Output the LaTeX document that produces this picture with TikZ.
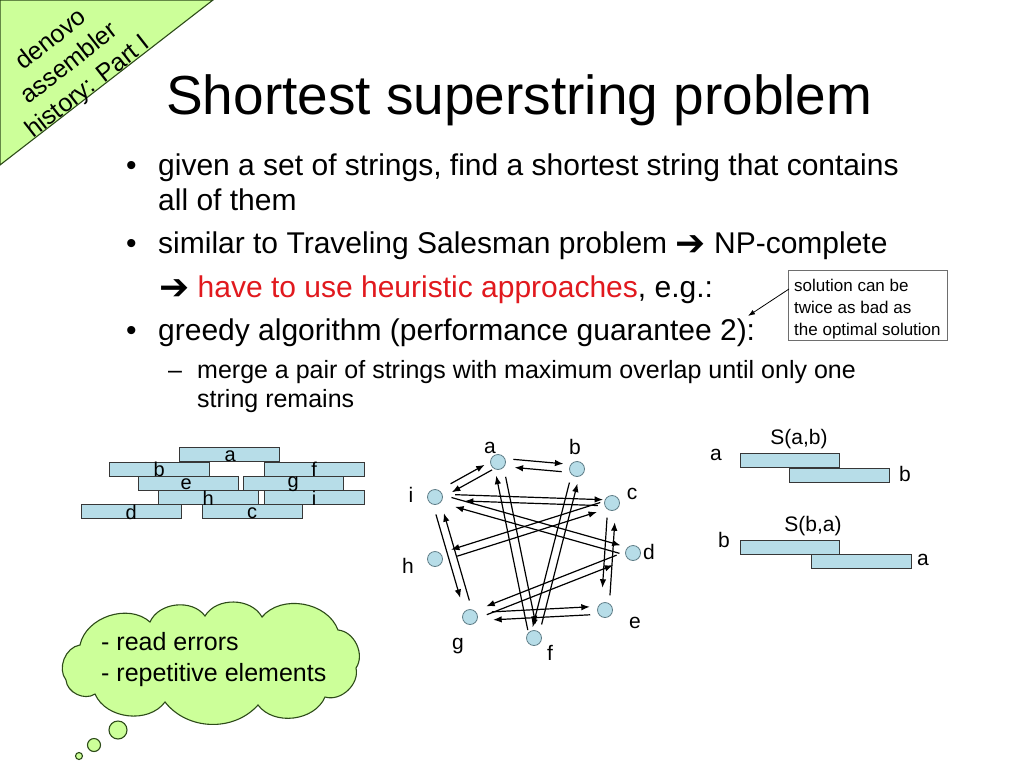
\documentclass[tikz,border=0pt]{standalone}
\usepackage{fontspec}
\setmainfont{Liberation Sans}
\newfontfamily\symfont{DejaVu Sans}
\usetikzlibrary{calc,arrows.meta}
\definecolor{barblue}{RGB}{183,221,232}
\definecolor{lgreen}{RGB}{204,255,153}
\definecolor{dgreen}{RGB}{45,75,25}
\definecolor{hred}{RGB}{225,25,30}
\definecolor{barline}{RGB}{55,55,55}
\definecolor{nodeline}{RGB}{95,125,135}
\newcommand{\garr}[5]{\draw[garrow, shorten <=#4pt, shorten >=#5pt] ($(#1)!#3pt!90:(#2)$) -- ($(#2)!#3pt!-90:(#1)$);}
\newcommand{\bigarr}{{\symfont\fontsize{36}{36}\selectfont\raisebox{-2pt}{➔}}}
\begin{document}
\begin{tikzpicture}[x=1pt,y=-1pt,
  body/.style={inner sep=0, anchor=base west, font=\fontsize{30}{35}\selectfont},
  sub/.style={inner sep=0, anchor=base west, font=\fontsize{25}{30}\selectfont},
  bar/.style={draw=barline, fill=barblue, line width=0.9, minimum width=99.5, minimum height=14.3, inner sep=0, anchor=north west},
  barlab/.style={inner sep=0, font=\fontsize{20}{24}\selectfont},
  slab/.style={inner sep=0, font=\fontsize{21}{25}\selectfont},
  gnode/.style={circle, minimum size=15, inner sep=0, fill=barblue, draw=nodeline, line width=0.8},
  glab/.style={inner sep=0, font=\fontsize{21}{24}\selectfont},
  garrow/.style={line width=1.2, -{Latex[length=8.5pt,width=6.5pt]}},
  ctext/.style={inner sep=0, anchor=base west, font=\fontsize{17}{21}\selectfont},
  cltext/.style={inner sep=0, anchor=base west, font=\fontsize{25}{31}\selectfont},
  green/.style={fill=lgreen, draw=dgreen, line width=1.1}
]
\useasboundingbox (0,0) rectangle (1024,768);
\fill[white] (0,0) rectangle (1024,768);

% corner triangle
\draw[green] (0,0) -- (213,0) -- (0,165) -- cycle;
\node[rotate=38, align=center, inner sep=0, font=\fontsize{25}{30}\selectfont] (tri) at (70,64) {denovo\\assembler\\history: Part I};

% title
\node[inner sep=0, anchor=base west, font=\fontsize{55}{66}\selectfont] (title) at (166,114) {Shortest superstring problem};

% bullets
\node[body] (b1) at (126,175) {•};
\node[body] (l1) at (158,175) {given a set of strings, find a shortest string that contains};
\node[body] (l2) at (158,210) {all of them};
\node[body] (b2) at (126,253) {•};
\node[body] (l3) at (158,253) {similar to Traveling Salesman problem \bigarr{} NP-complete};
\node[body] (l4) at (159,297) {\bigarr{} {\color{hred}have to use heuristic approaches}, e.g.:};
\node[body] (b3) at (126,340) {•};
\node[body] (l5) at (158,340) {greedy algorithm (performance guarantee 2):};
\node[sub] (d1) at (168,378) {–};
\node[sub] (l6) at (197,378) {merge a pair of strings with maximum overlap until only one};
\node[sub] (l7) at (197,407) {string remains};

% callout
\node[draw={rgb,255:red,110;green,110;blue,110}, line width=0.9, minimum width=159, minimum height=70, inner sep=0, anchor=north west] (cb) at (788,270) {};
\node[ctext] (c1) at (794,291) {solution can be};
\node[ctext] (c2) at (794,313) {twice as bad as};
\node[ctext] (c3) at (794,335) {the optimal solution};
\coordinate (cs) at ($(cb.north west)+(1,19)$);
\coordinate (ctip) at (748,316);
\draw[line width=0.8, -{Latex[length=7pt,width=5pt]}] (cs) -- (ctip);

% bars (left)
\node[bar] (ra) at (179,447) {};
\node[bar] (rb) at (109,461.5) {};
\node[bar] (rf) at (264,461.5) {};
\node[bar] (re) at (138,476) {};
\node[bar] (rg) at (243,476) {};
\node[bar] (rh) at (158,490) {};
\node[bar] (ri) at (264,490) {};
\node[bar] (rd) at (81,504) {};
\node[bar] (rc) at (202,504) {};
\node[barlab] (lra) at ($(ra.center)+(1,2)$) {a};
\node[barlab] (lrb) at ($(rb.center)+(0,0.5)$) {b};
\node[barlab] (lrf) at ($(rf.center)+(0,0.5)$) {f};
\node[barlab] (lre) at ($(re.center)+(-2,1)$) {e};
\node[barlab] (lrg) at ($(rg.center)+(0,1)$) {g};
\node[barlab] (lrh) at ($(rh.center)+(0,1)$) {h};
\node[barlab] (lri) at ($(ri.center)+(0,1)$) {i};
\node[barlab] (lrd) at ($(rd.center)+(0,1)$) {d};
\node[barlab] (lrc) at ($(rc.center)+(0,2)$) {c};

% graph
\node[gnode] (ga) at (498,462) {};
\node[gnode] (gb) at (577,469) {};
\node[gnode] (gi) at (435,497) {};
\node[gnode] (gc) at (612,503) {};
\node[gnode] (gd) at (633,553) {};
\node[gnode] (gh) at (435,559) {};
\node[gnode] (gg) at (470,617) {};
\node[gnode] (ge) at (605,610) {};
\node[gnode] (gf) at (534,638) {};
\node[glab] (la) at (490,448) {a};
\node[glab] (lb) at (575,447) {b};
\node[glab] (li) at (411,495) {i};
\node[glab] (lc) at (632,494) {c};
\node[glab] (ld) at (649,552) {d};
\node[glab] (lh) at (408,566) {h};
\node[glab] (lg) at (458,646) {g};
\node[glab] (le) at (635,623) {e};
\node[glab] (lf) at (550,653) {f};

\garr{ga}{gb}{4}{15}{14}
\garr{gb}{ga}{4}{15}{17}
\garr{gi}{ga}{4}{20}{13}
\garr{ga}{gi}{4}{9}{17}
\garr{gi}{gc}{3}{20}{9}
\garr{gc}{gi}{3}{14}{30}
\garr{gi}{gd}{4}{16}{14}
\garr{gd}{gi}{4}{13}{22}
\garr{gc}{gh}{-4}{11}{18}
\garr{gh}{gc}{-4}{22}{17}
\garr{gi}{gg}{-4}{17}{21}
\garr{gg}{gi}{-4}{16}{18}
\garr{ga}{gf}{4.5}{16}{13}
\garr{gf}{ga}{4.5}{9}{13}
\garr{gb}{gf}{-4}{15}{10}
\garr{gf}{gb}{-4}{15}{14}
\garr{gc}{ge}{-4}{15}{22}
\garr{ge}{gc}{-4}{15}{19}
\garr{gd}{gg}{-4}{16}{19}
\garr{gg}{gd}{-4}{16.5}{23}
\garr{gg}{ge}{4}{22}{15}
\garr{ge}{gg}{4}{15}{23}

% S(a,b), S(b,a)
\node[bar, minimum width=99] (sa1) at (740,453) {};
\node[bar, minimum width=100] (sb1) at (789,468) {};
\node[bar, minimum width=99] (sb2) at (740,540) {};
\node[bar, minimum width=100] (sa2) at (811,554) {};
\node[slab] (tsa1) at (716,455) {a};
\node[slab] (tsab) at (799,439) {S(a,b)};
\node[slab] (tsb1) at (905,474) {b};
\node[slab] (tsb2) at (724,540) {b};
\node[slab] (tsba) at (813,526) {S(b,a)};
\node[slab] (tsa2) at (923,560) {a};

% cloud
\draw[green] (66,680) to[bend left=60] (80,645) to[bend left=60] (150,622)
  to[bend left=60] (205,616) to[bend left=60] (262,617) to[bend left=60] (338,630)
  to[bend left=60] (356,668) to[bend left=60] (325,697) to[bend left=60] (258,705)
  to[bend left=50] (165,702) to[bend left=60] (95,694) to[bend left=60] (66,680) -- cycle;
\node[green, circle, minimum size=18, inner sep=0] (bb1) at (118,730) {};
\node[green, circle, minimum size=13, inner sep=0] (bb2) at (94,745) {};
\node[green, circle, minimum size=7, inner sep=0] (bb3) at (79,756) {};
\node[cltext] (ct1) at (101,650) {- read errors};
\node[cltext] (ct2) at (101,681) {- repetitive elements};
\end{tikzpicture}
\end{document}
